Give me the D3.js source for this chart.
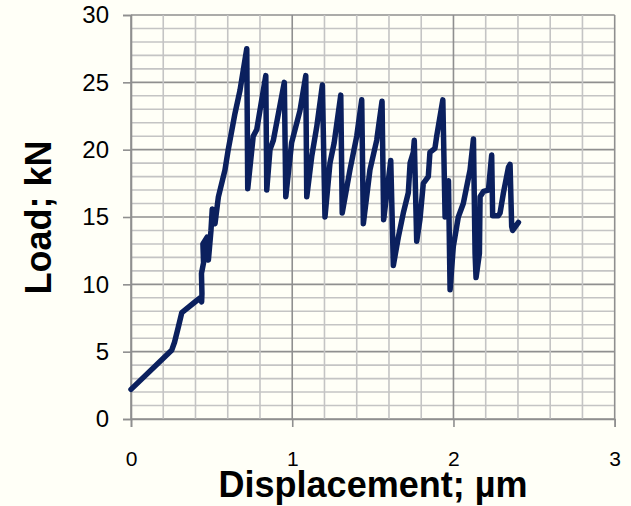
<!DOCTYPE html>
<html>
<head>
<meta charset="utf-8">
<script src="https://cdn.jsdelivr.net/npm/d3@7/dist/d3.min.js"></script>
<style>
  html, body { margin: 0; padding: 0; background: #FFFFF7; }
  svg { display: block; }
</style>
</head>
<body>
<svg id="chart" width="631" height="506"></svg>
<script>
// Load–displacement record (displacement in µm, load in kN)
const displacement = [
  0.00, 0.252, 0.27, 0.294, 0.315, 0.408, 0.43, 0.438, 0.44, 0.437, 0.45, 0.446, 0.472, 0.48,
  0.496, 0.504, 0.521, 0.542, 0.583, 0.603, 0.645, 0.676, 0.718,
  0.724, 0.758, 0.78, 0.836,
  0.842, 0.862, 0.883, 0.951,
  0.96, 0.996, 1.048, 1.084,
  1.09, 1.121, 1.152, 1.187,
  1.203, 1.234, 1.26, 1.301,
  1.31, 1.358, 1.40, 1.431,
  1.441, 1.482, 1.524, 1.557,
  1.567, 1.611, 1.627, 1.658, 1.689, 1.72, 1.731, 1.751, 1.757,
  1.772, 1.792, 1.813, 1.844, 1.854, 1.885, 1.896, 1.934,
  1.948, 1.969, 1.979, 1.999, 2.03, 2.061, 2.103, 2.124,
  2.134, 2.14, 2.161, 2.165, 2.186, 2.217, 2.237,
  2.243, 2.278, 2.289, 2.31, 2.341, 2.351,
  2.361, 2.367, 2.403
];
const load = [
  2.2, 5.1, 5.7, 6.85, 7.9, 8.8, 9.0, 8.7, 9.3, 10.8, 11.6, 13.0, 13.5, 11.8,
  14.0, 15.6, 14.5, 16.5, 18.5, 20.0, 22.7, 24.4, 27.5,
  17.1, 21.0, 21.5, 25.5,
  17.0, 20.0, 20.7, 25.0,
  16.5, 20.5, 22.9, 25.5,
  16.5, 19.5, 21.7, 24.8,
  15.0, 19.0, 20.5, 24.05,
  15.3, 18.5, 21.0, 23.7,
  14.5, 18.5, 20.7, 23.6,
  14.8, 19.2, 11.4, 13.5, 15.3, 16.8, 19.0, 19.8, 20.7,
  13.2, 14.8, 17.5, 18.0, 19.8, 20.1, 21.0, 23.7,
  15.0, 17.7, 9.6, 12.8, 15.0, 16.0, 18.5, 20.8,
  12.3, 10.5, 12.3, 16.5, 16.9, 17.0, 19.6,
  15.1, 15.1, 15.3, 16.8, 18.7, 18.9,
  14.3, 14.0, 14.6
];

const xTicks = [0, 1, 2, 3];
const yTicks = [0, 5, 10, 15, 20, 25, 30];
const xTitle = "Displacement; µm";
const yTitle = "Load; kN";

const svg = d3.select("#chart");
const x = d3.scaleLinear().domain([0, 3]).range([131, 614.7]);
const y = d3.scaleLinear().domain([0, 30]).range([419, 15]);

// grid: minor lines every 0.2 µm / 1 kN, major every 1 µm / 5 kN
const grid = svg.append("g");
const xMinor = d3.range(0, 3.0001, 0.2).map(v => +v.toFixed(1));
const yMinor = d3.range(0, 30.0001, 1);
const isMajorX = v => Math.abs(v - Math.round(v)) < 1e-6;
const isMajorY = v => v % 5 === 0;

grid.selectAll("line.hx").data(yMinor).join("line")
  .attr("x1", x(0)).attr("x2", x(3))
  .attr("y1", d => y(d)).attr("y2", d => y(d))
  .attr("stroke", d => isMajorY(d) ? "#8f8f8f" : "#c4c4c4")
  .attr("stroke-width", 1.6);

grid.selectAll("line.vx").data(xMinor).join("line")
  .attr("y1", y(0)).attr("y2", y(30))
  .attr("x1", d => x(d)).attr("x2", d => x(d))
  .attr("stroke", d => isMajorX(d) ? "#8f8f8f" : "#c4c4c4")
  .attr("stroke-width", 1.6);

// axes
const yAxis = d3.axisLeft(y).tickValues(yTicks).tickSize(8).tickPadding(14);
const gy = svg.append("g").attr("transform", `translate(${x(0)},0)`).call(yAxis);
gy.select(".domain").attr("stroke", "#8f8f8f").attr("stroke-width", 1.6);
gy.selectAll(".tick line").attr("stroke", "#8f8f8f").attr("stroke-width", 1.6);
gy.selectAll(".tick text")
  .attr("font-family", "'Liberation Sans', Arial, sans-serif")
  .attr("font-size", 24).attr("fill", "#000");

const xAxis = d3.axisBottom(x).tickValues(xTicks).tickFormat(d3.format("d"))
  .tickSize(8).tickPadding(24);
const gx = svg.append("g").attr("transform", `translate(0,${y(0)})`).call(xAxis);
gx.select(".domain").attr("stroke", "#8f8f8f").attr("stroke-width", 1.6);
gx.selectAll(".tick line").attr("stroke", "#8f8f8f").attr("stroke-width", 1.6);
gx.selectAll(".tick text")
  .attr("font-family", "'Liberation Sans Narrow', 'Arial Narrow', 'Liberation Sans', sans-serif")
  .attr("font-size", 21).attr("fill", "#000");

// load curve
const pts = displacement.map((d, i) => [d, load[i]]);
const line = d3.line().x(d => x(d[0])).y(d => y(d[1]));
svg.append("path")
  .attr("d", line(pts))
  .attr("fill", "none")
  .attr("stroke", "#0B205E")
  .attr("stroke-width", 5.5)
  .attr("stroke-linejoin", "round")
  .attr("stroke-linecap", "round");

// axis titles
svg.append("text")
  .attr("x", 373).attr("y", 497)
  .attr("text-anchor", "middle")
  .attr("font-family", "'Liberation Sans', Arial, sans-serif")
  .attr("font-weight", "bold").attr("font-size", 36)
  .text(xTitle);

svg.append("text")
  .attr("transform", "translate(51,217.5) rotate(-90)")
  .attr("text-anchor", "middle")
  .attr("font-family", "'Liberation Sans', Arial, sans-serif")
  .attr("font-weight", "bold").attr("font-size", 36)
  .text(yTitle);
</script>
</body>
</html>
